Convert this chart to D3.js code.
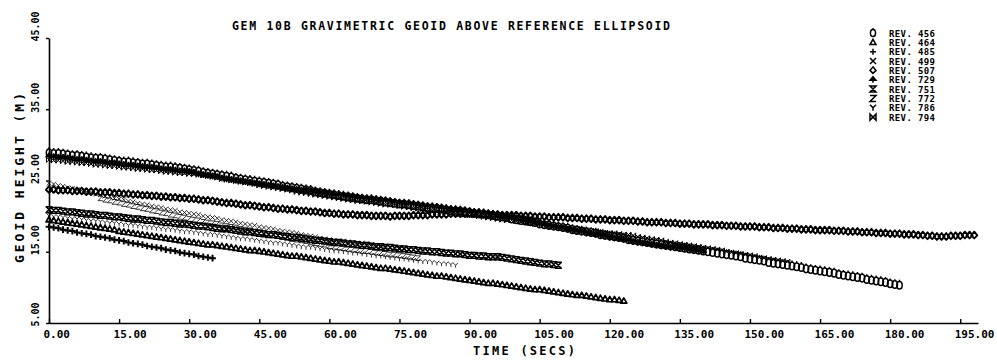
<!DOCTYPE html>
<html>
<head>
<meta charset="utf-8">
<script src="https://cdn.jsdelivr.net/npm/d3@7"></script>
<style>
  body { margin: 0; background: #fff; }
  svg { display: block; }
  text { font-family: "DejaVu Sans Mono", monospace; font-weight: bold; fill: #000; }
</style>
</head>
<body>
<svg id="chart" width="997" height="363"></svg>
<script>
// GEM 10B gravimetric geoid heights along each pass, one sample per second.
const revisions = ["456", "464", "485", "499", "507", "729", "751", "772", "786", "794"];
const startTimes = [0, 0, 0, 0, 0, 0, 0, 11, 0, 0];

const rev456 = [28.9,28.8,28.8,28.7,28.6,28.5,28.5,28.4,28.3,28.2,28.1,28.1,28.0,27.9,27.8,27.7,
  27.6,27.6,27.5,27.4,27.3,27.3,27.2,27.1,27.0,26.9,26.9,26.8,26.7,26.6,26.5,
  26.4,26.3,26.1,26.0,25.9,25.8,25.7,25.6,25.5,25.3,25.2,25.1,25.0,24.9,24.8,
  24.7,24.6,24.5,24.4,24.2,24.1,24.0,23.9,23.8,23.7,23.6,23.4,23.3,23.2,23.1,23.0,22.9,22.8,22.7,
  22.6,22.5,22.4,22.3,22.3,22.2,22.1,22.0,21.9,21.8,21.7,21.7,21.6,21.5,21.4,21.3,
  21.2,21.1,21.1,21.0,20.9,20.8,20.7,20.7,20.6,20.5,20.4,20.3,20.3,20.2,20.1,20.0,
  19.9,19.8,19.6,19.5,19.4,19.3,19.2,19.1,18.9,18.8,18.7,18.6,18.5,
  18.4,18.3,18.1,18.0,17.9,17.8,17.7,17.6,17.4,17.3,17.2,17.1,17.0,16.9,16.7,16.6,16.5,16.4,16.3,16.2,
  16.1,16.0,15.9,15.8,15.7,15.6,15.5,15.4,15.3,15.2,15.1,15.0,14.9,14.8,14.7,14.6,14.5,14.4,14.3,14.1,14.0,
  13.9,13.8,13.7,13.5,13.4,13.3,13.2,13.1,13.0,12.9,12.8,12.6,12.5,12.4,12.3,12.2,12.1,12.0,11.8,11.7,11.6,
  11.5,11.4,11.3,11.1,11.0,10.9,10.8,10.7,10.5,10.4,10.3];

const rev464 = [19.5,19.4,19.3,19.2,19.1,19.0,18.9,18.8,18.7,18.6,18.5,18.4,18.3,18.2,18.1,17.9,17.8,17.7,17.6,17.5,
  17.4,17.3,17.2,17.1,17.0,16.9,16.8,16.7,16.6,16.5,16.4,
  16.3,16.2,16.1,16.0,16.0,15.9,15.8,15.7,15.6,15.5,15.4,15.3,15.2,15.2,15.1,15.0,14.9,14.8,14.7,14.6,
  14.5,14.4,14.4,14.3,14.2,14.1,14.0,13.9,13.8,13.7,13.6,13.6,13.5,13.4,
  13.3,13.2,13.1,13.0,12.9,12.8,12.7,12.7,12.6,12.5,12.4,12.3,12.2,12.1,12.0,11.9,11.8,11.7,11.6,11.6,
  11.5,11.4,11.3,11.2,11.1,11.0,10.9,10.8,10.7,10.6,10.6,10.5,
  10.4,10.3,10.2,10.1,10.0,9.9,9.8,9.7,9.7,9.6,9.5,9.4,9.3,9.2,9.1,9.0,8.9,8.9,8.8,8.7,
  8.6,8.5,8.4,8.3,8.3,8.2,8.1];

const rev485 = [18.5,18.4,18.3,18.1,18.0,17.9,17.7,17.6,17.5,17.4,17.2,17.1,17.0,16.9,16.7,16.6,16.5,16.3,16.2,16.1,
  16.0,15.8,15.7,15.6,15.5,15.3,15.2,15.1,14.9,14.8,14.7,14.6,14.4,14.3,14.2,14.1];

const rev499 = [24.6,24.5,24.3,24.2,24.0,23.9,23.7,23.6,23.4,23.3,23.1,23.0,22.8,22.7,22.5,22.4,
  22.3,22.1,22.0,21.8,21.7,21.6,21.4,21.3,21.2,21.0,20.9,20.8,20.6,20.5,20.4,
  20.3,20.2,20.0,19.9,19.8,19.7,19.5,19.4,19.3,19.2,19.0,18.9,18.8,18.7,18.5,18.4,18.3,18.2,18.0,17.9,
  17.8,17.7,17.6,17.4,17.3,17.2,17.1,16.9,16.8,16.7,16.6,16.5,16.5,
  16.4,16.3,16.2,16.2,16.1,16.0,15.9,15.9,15.8,15.7,15.6,15.6,15.5,15.4,15.3,15.3,15.2,15.1,15.0,15.0,
  14.9,14.8,14.7,14.7,14.6,14.5,14.5,
  14.4,14.4,14.3,14.2,14.2,14.1];

const rev507 = [23.7,23.7,23.6,23.6,23.6,23.5,23.5,23.5,23.4,23.4,23.4,23.3,23.3,23.3,23.2,23.2,
  23.1,23.1,23.0,23.0,22.9,22.9,22.8,22.8,22.7,22.7,22.6,22.6,22.5,22.5,22.4,22.4,22.3,
  22.2,22.2,22.1,22.0,21.9,21.8,21.8,21.7,21.6,21.5,21.5,21.4,21.3,21.2,21.2,21.1,21.0,21.0,
  20.9,20.9,20.8,20.7,20.7,20.6,20.6,20.5,20.4,20.4,20.3,20.3,20.2,20.2,
  20.2,20.1,20.1,20.1,20.0,20.0,20.0,20.0,19.9,20.0,20.0,
  20.0,20.0,20.1,20.1,20.1,20.1,20.2,20.2,20.2,20.2,20.3,20.3,20.3,20.3,20.3,
  20.3,20.3,20.2,20.2,20.2,20.2,20.1,20.1,20.1,20.1,
  20.0,20.0,20.0,19.9,19.9,19.9,19.8,19.8,19.8,
  19.8,19.7,19.7,19.7,19.6,19.6,19.6,19.5,19.5,19.5,19.4,19.4,19.4,19.3,19.3,19.3,19.2,19.2,19.1,19.1,
  19.1,19.1,19.0,19.0,19.0,18.9,18.9,18.9,18.8,18.8,18.8,18.8,18.7,18.7,18.7,18.6,18.6,18.6,18.5,18.5,18.5,
  18.5,18.4,18.4,18.4,18.3,18.3,18.3,18.2,18.2,18.2,18.1,18.1,18.1,18.0,18.0,18.0,18.0,17.9,17.9,17.9,
  17.8,17.8,17.8,17.7,17.7,17.7,17.6,17.6,17.6,17.5,17.5,17.5,17.4,17.4,17.4,
  17.3,17.3,17.2,17.2,17.1,
  17.1,17.1,17.2,17.2,17.2,17.3,17.3,17.3];

const rev729 = [28.4,28.3,28.2,28.2,28.1,28.0,27.9,27.9,27.8,27.7,27.6,27.6,27.5,27.4,27.4,27.3,
  27.2,27.1,27.1,27.0,26.9,26.8,26.8,26.7,26.6,26.5,26.5,26.4,26.3,26.3,26.2,
  26.1,25.9,25.8,25.7,25.6,25.5,25.3,25.2,25.1,25.0,24.9,24.8,24.7,24.6,24.5,
  24.4,24.3,24.2,24.1,24.0,23.9,23.8,23.7,23.6,23.6,23.5,23.4,23.3,23.2,23.1,23.0,23.0,22.9,22.8,
  22.7,22.6,22.6,22.5,22.4,22.3,22.2,22.2,22.1,22.0,21.9,21.8,21.8,21.7,21.6,21.5,
  21.4,21.4,21.3,21.2,21.1,21.0,21.0,20.9,20.8,20.7,20.6,20.6,20.5,20.4,20.3,20.2,
  20.1,19.9,19.8,19.6,19.5,19.3,19.2,19.1,18.9,18.8,18.6,18.5,18.4,
  18.3,18.1,18.0,17.9,17.8,17.6,17.5,17.4,17.3,17.2,17.0,16.9,16.8,16.7,16.6,16.4,16.3,16.2,16.1,16.0,
  15.9,15.8,15.7,15.6,15.6,15.5,15.4,15.3,15.2,15.1,15.0];

const rev751 = [20.9,20.8,20.8,20.7,20.6,20.6,20.5,20.4,20.3,20.3,20.2,20.1,20.1,20.0,19.9,19.9,19.8,19.7,19.6,19.6,
  19.5,19.4,19.4,19.3,19.2,19.1,19.1,19.0,18.9,18.9,18.8,
  18.7,18.6,18.6,18.5,18.4,18.3,18.2,18.2,18.1,18.0,17.9,17.8,17.8,17.7,17.6,17.5,17.4,17.4,17.3,17.2,
  17.1,17.0,17.0,16.9,16.8,16.7,16.6,16.6,16.5,16.4,16.3,16.3,16.2,
  16.1,16.1,16.0,15.9,15.9,15.8,15.7,15.7,15.6,15.6,15.5,15.4,15.4,15.3,15.3,15.2,15.1,15.1,15.0,15.0,
  14.9,14.8,14.8,14.7,14.7,14.6,14.5,14.5,14.4,14.4,14.3,14.3,14.3,
  14.2,14.1,14.0,13.9,13.8,13.7,13.6,13.5,13.4,13.3,13.3,13.2,13.1];

const rev772 = [22.5,22.3,22.2,22.0,21.9,21.7,21.6,21.4,21.3,21.1,21.0,20.8,20.7,20.5,20.4,20.2,20.1,19.9,19.8,19.6,
  19.5,19.4,19.2,19.1,19.0,18.9,18.7,18.6,18.5,18.4,18.2,18.1,18.0,17.8,17.7,17.6,17.5,17.3,17.2,17.1,
  17.0,16.8,16.7,16.6,16.5,16.3,16.2,16.1,16.0,15.8,15.7,15.6,15.5,
  15.4,15.3,15.2,15.1,15.1,15.0,14.9,14.8,14.7,14.6,14.6,14.5,14.4,14.3,14.2,14.1];

const rev786 = [20.0,19.9,19.9,19.8,19.7,19.6,19.6,19.5,19.4,19.3,19.3,19.2,19.1,19.0,19.0,18.9,18.8,18.7,18.7,18.6,
  18.5,18.4,18.4,18.3,18.2,18.1,18.1,18.0,17.9,17.8,17.8,
  17.7,17.6,17.5,17.4,17.4,17.3,17.2,17.1,17.0,16.9,16.8,16.8,16.7,16.6,16.5,16.4,16.3,16.2,16.2,16.1,
  16.0,15.9,15.8,15.7,15.6,15.6,15.5,15.4,15.3,15.2,15.1,15.1,15.0,
  14.9,14.8,14.8,14.7,14.6,14.5,14.4,14.4,14.3,14.2,14.1,14.0,14.0,13.9,13.8,13.7,13.6,13.6,13.5,13.4,
  13.3,13.3,13.2,13.1];

const rev794 = [27.9,27.8,27.8,27.7,27.6,27.6,27.5,27.4,27.4,27.3,27.2,27.2,27.1,27.0,27.0,26.9,26.8,26.8,26.7,26.6,
  26.6,26.5,26.4,26.4,26.3,26.2,26.2,26.1,26.0,26.0,25.9,25.9,25.8,
  25.7,25.6,25.5,25.4,25.2,25.1,25.0,24.9,24.8,24.7,24.6,24.5,24.3,24.2,24.1,24.0,23.9,23.8,23.7,23.6,
  23.4,23.3,23.2,23.1,23.0,22.9,22.8,22.7,22.6,22.5,22.4,22.3,
  22.2,22.1,22.1,22.0,21.9,21.8,21.7,21.6,21.6,21.5,21.4,21.3,21.2,21.1,21.1,21.0,20.9,20.8,20.7,20.6,
  20.6,20.5,20.4,20.3,20.2,20.1,20.1,20.0,19.9,19.8,19.7,19.6,
  19.5,19.4,19.4,19.3,19.2,19.1,19.0,18.9,18.9,18.8,18.7,18.6,18.5,18.4,18.4,18.3,18.2,18.1,18.0,17.9,
  17.9,17.8,17.7,17.6,17.6,17.5,17.4,17.4,
  17.3,17.1,17.0,16.9,16.8,16.7,16.6,16.4,16.3,16.2,16.1,16.0,15.9,15.8,15.7,15.6,
  15.5,15.4,15.3,15.2,15.0,14.9,14.8,14.7,14.6,14.5,14.4,14.2,14.1,14.0,13.9,13.8,13.7,13.6];

const seriesValues = [rev456, rev464, rev485, rev499, rev507, rev729, rev751, rev772, rev786, rev794];

const xTicks = [0, 15, 30, 45, 60, 75, 90, 105, 120, 135, 150, 165, 180, 195];
const xTickLabels = ["0.00","15.00","30.00","45.00","60.00","75.00","90.00","105.00","120.00","135.00","150.00","165.00","180.00","195.00"];
const yTicks = [5, 15, 25, 35, 45];
const yTickLabels = ["5.00","15.00","25.00","35.00","45.00"];

// ---- plotter-style marker shapes (d3 custom symbol types) ----
const mk = draw => ({ draw(ctx, size) { draw(ctx, Math.sqrt(size) / 2); } });
const K = 0.5523;
const symbolTypes = {
  "456": mk((c, r) => {            // tall open oval with a short stem on top
    const a = r * 0.85, b = r * 1.2;
    c.moveTo(0, -b);
    c.bezierCurveTo(a * K, -b, a, -b * K, a, 0);
    c.bezierCurveTo(a, b * K, a * K, b, 0, b);
    c.bezierCurveTo(-a * K, b, -a, b * K, -a, 0);
    c.bezierCurveTo(-a, -b * K, -a * K, -b, 0, -b);
    c.closePath();
    c.moveTo(0, -b); c.lineTo(0, -b - r * 0.5);
  }),
  "464": mk((c, r) => { c.moveTo(0, -r); c.lineTo(r, r * 0.75); c.lineTo(-r, r * 0.75); c.closePath(); }),
  "485": mk((c, r) => { c.moveTo(-r, 0); c.lineTo(r, 0); c.moveTo(0, -r); c.lineTo(0, r); }),
  "499": mk((c, r) => { c.moveTo(-r, -r); c.lineTo(r, r); c.moveTo(r, -r); c.lineTo(-r, r); }),
  "507": mk((c, r) => { c.moveTo(0, -r * 1.2); c.lineTo(r, 0); c.lineTo(0, r); c.lineTo(-r, 0); c.closePath(); }),
  "729": mk((c, r) => { c.moveTo(0, -r); c.lineTo(r, r * 0.2); c.lineTo(-r, r * 0.2); c.closePath(); c.moveTo(0, 0); c.lineTo(0, r); }),
  "751": mk((c, r) => { c.moveTo(-r, -r); c.lineTo(r, -r); c.lineTo(-r, r); c.lineTo(r, r); c.closePath(); }),
  "772": mk((c, r) => { c.moveTo(-r, -r); c.lineTo(r, -r); c.lineTo(-r, r); c.lineTo(r, r); }),
  "786": mk((c, r) => { c.moveTo(-r, -r); c.lineTo(0, 0); c.lineTo(r, -r); c.moveTo(0, 0); c.lineTo(0, r); }),
  "794": mk((c, r) => { c.moveTo(-r, -r); c.lineTo(r, r); c.lineTo(r, -r); c.lineTo(-r, r); c.closePath(); })
};
// pen weight and marker size on the plot
const penStyle = {
  "456": { w: 1.5, s: 40, fill: "none" },
  "464": { w: 1.7, s: 36, fill: "none" },
  "485": { w: 2.0, s: 44, fill: "none" },
  "499": { w: 0.8, s: 22, fill: "none" },
  "507": { w: 1.9, s: 38, fill: "none" },
  "729": { w: 1.4, s: 40, fill: "#000" },
  "751": { w: 1.5, s: 34, fill: "none" },
  "772": { w: 0.8, s: 22, fill: "none" },
  "786": { w: 0.8, s: 22, fill: "none" },
  "794": { w: 1.0, s: 26, fill: "none" }
};
const drawOrder = ["499", "772", "786", "794", "751", "464", "485", "729", "456", "507"];

// ---- scales ----
const svg = d3.select("#chart");
const x = d3.scaleLinear().domain([0, 198.8]).range([49, 978]);
const y = d3.scaleLinear().domain([5, 45]).range([323, 38]);

// ---- axes ----
const xAxis = d3.axisBottom(x).tickValues(xTicks)
  .tickFormat((d, i) => xTickLabels[i]).tickSizeInner(-4).tickSizeOuter(0);
const gx = svg.append("g").attr("transform", `translate(0,${y(5)})`).call(xAxis);
gx.select(".domain").attr("stroke", "#000").attr("stroke-width", 1.6);
gx.selectAll(".tick line").attr("stroke", "#000").attr("stroke-width", 1.4).attr("y2", -4).attr("y1", 1);
gx.selectAll(".tick text").attr("text-anchor", "start").attr("x", -6).attr("y", 15).attr("dy", 0)
  .attr("font-size", 11).attr("font-family", "DejaVu Sans Mono").attr("font-weight", "bold");

const yAxis = d3.axisLeft(y).tickValues(yTicks)
  .tickFormat((d, i) => yTickLabels[i]).tickSizeInner(3).tickSizeOuter(0);
const gy = svg.append("g").attr("transform", `translate(${x(0)},0)`).call(yAxis);
gy.select(".domain").attr("stroke", "#000").attr("stroke-width", 1.6);
gy.selectAll(".tick line").attr("stroke", "#000").attr("stroke-width", 1.4);
gy.selectAll(".tick text").attr("transform", "rotate(-90)").attr("text-anchor", "start")
  .attr("x", -3).attr("y", -10).attr("dy", 0)
  .attr("font-size", 10).attr("font-family", "DejaVu Sans Mono").attr("font-weight", "bold");

// ---- data markers ----
const plot = svg.append("g");
drawOrder.forEach(rev => {
  const k = revisions.indexOf(rev);
  const t0 = startTimes[k];
  const pts = seriesValues[k].map((v, i) => ({ t: t0 + i, v }));
  const st = penStyle[rev];
  const sym = d3.symbol().type(symbolTypes[rev]).size(st.s);
  plot.append("g").selectAll("path").data(pts).join("path")
    .attr("transform", d => `translate(${x(d.t)},${y(d.v)})`)
    .attr("d", sym)
    .attr("fill", st.fill)
    .attr("stroke", "#000")
    .attr("stroke-width", st.w)
    .attr("stroke-linejoin", "round");
});

// ---- titles ----
svg.append("text").attr("x", 232).attr("y", 30)
  .attr("font-size", 11.5).attr("textLength", 438).attr("lengthAdjust", "spacing")
  .text("GEM 10B GRAVIMETRIC GEOID ABOVE REFERENCE ELLIPSOID");
svg.append("text").attr("x", 473).attr("y", 355)
  .attr("font-size", 12).attr("textLength", 102).attr("lengthAdjust", "spacing")
  .text("TIME (SECS)");
svg.append("text").attr("transform", "translate(24,178) rotate(-90)")
  .attr("text-anchor", "middle").attr("font-size", 13)
  .attr("textLength", 170).attr("lengthAdjust", "spacing")
  .text("GEOID HEIGHT (M)");

// ---- legend ----
const legend = svg.append("g");
revisions.forEach((rev, i) => {
  const ly = 33 + i * 9.35;
  legend.append("path")
    .attr("transform", `translate(873,${ly})`)
    .attr("d", d3.symbol().type(symbolTypes[rev]).size(36)())
    .attr("fill", rev === "729" ? "#000" : "none")
    .attr("stroke", "#000").attr("stroke-width", 1.5);
  legend.append("text").attr("x", 889).attr("y", ly + 3.5)
    .attr("font-size", 9).attr("textLength", 46).attr("lengthAdjust", "spacing")
    .text("REV. " + rev);
});
</script>
</body>
</html>
